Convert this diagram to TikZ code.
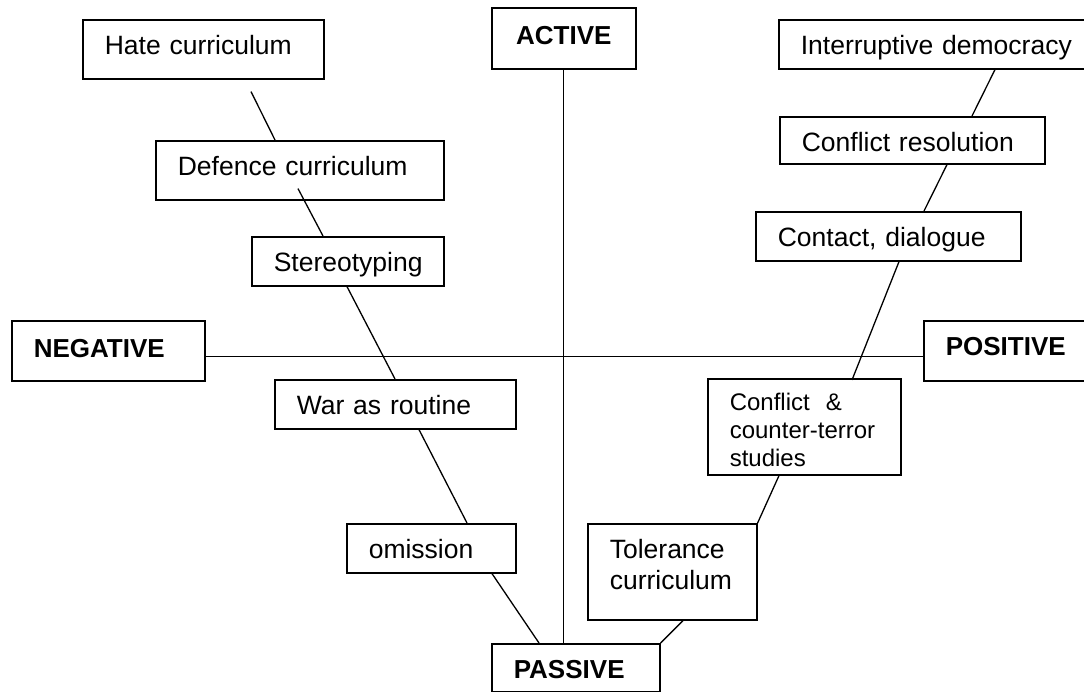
\documentclass[tikz,border=0pt]{standalone}
\usepackage{fontspec}
\setmainfont{Liberation Sans}
\usetikzlibrary{calc}
\newcommand\cfnorm{\fontsize{26.5pt}{31pt}\selectfont}
\newcommand\cfbold{\bfseries\fontsize{26pt}{31pt}\selectfont}
\newcommand\cfsmall{\fontsize{24pt}{28pt}\selectfont}
\tikzset{
  box/.style={draw, line width=1.6pt, rectangle, anchor=north west,
    inner xsep=22pt, inner ysep=0pt, align=left, font=\cfnorm,
    execute at begin node={\hyphenpenalty=10000\exhyphenpenalty=10000}},
  bbox/.style={box, font=\cfbold},
  conn/.style={line width=1.3pt},
}
\begin{document}
\begin{tikzpicture}[x=1pt, y=-1pt]
\fill[white] (0,0) rectangle (1084,692);
\useasboundingbox (0,0) rectangle (1084,692);

% left branch (negative)
\node[box, text width=197pt, text height=35pt, text depth=24pt] (hate) at (82,19) {Hate curriculum};
\node[box, text width=244pt, text height=35pt, text depth=24pt] (defence) at (155,140) {Defence curriculum};
\node[box, text width=148pt, text height=35pt, text depth=14pt] (stereo) at (251,236) {Stereotyping};
\node[box, text width=197pt, text height=35pt, text depth=14pt] (war) at (274,379) {War as routine};
\node[box, text width=125pt, text height=35pt, text depth=14pt] (omission) at (346,523) {omission};

% right branch (positive)
\node[box, text width=125pt, text height=35pt, text depth=61pt] (tolerance) at (587,523) {Tolerance\\curriculum};
\node[box, font=\cfsmall, text width=149pt, text height=32pt, text depth=64pt] (conflict) at (707,378) {Conflict\ \ \&\\counter-terror\\studies};
\node[box, text width=221pt, text height=35pt, text depth=14pt] (contact) at (755,211) {Contact, dialogue};
\node[box, text width=221pt, text height=35pt, text depth=12pt] (confres) at (779,116) {Conflict resolution};
\node[box, text width=276pt, text height=35pt, text depth=14pt] (interr) at (778,19) {Interruptive democracy};

% axis labels
\node[bbox, align=center, text width=100pt, text height=37pt, text depth=24pt] (active) at (491,7) {ACTIVE};
\node[bbox, text width=124pt, text height=35pt, text depth=13pt] (passive) at (491,643) {PASSIVE};
\node[bbox, text width=149pt, text height=37pt, text depth=23pt] (negative) at (11,320) {NEGATIVE};
\node[bbox, text width=131pt, text height=35pt, text depth=25pt] (positive) at (923,320) {POSITIVE};

% axes
\draw[conn] (active.south) -- (active.south |- passive.north);
\draw[conn] ($(negative.south east)+(0,-25)$) -- ($(positive.south west)+(0,-25)$);

% negative chain
\draw[conn] ($(hate.south west)+(169,12)$) -- ($(defence.north west)+(120,0)$);
\draw[conn] ($(defence.south west)+(143,-12)$) -- ($(stereo.north west)+(72,0)$);
\draw[conn] ($(stereo.south west)+(96,0)$) -- ($(war.north west)+(121,0)$);
\draw[conn] ($(war.south west)+(145,0)$) -- ($(omission.north west)+(121,0)$);
\draw[conn] ($(omission.south west)+(146,0)$) -- ($(passive.north west)+(48,0)$);

% positive chain
\draw[conn] (passive.north east) -- ($(tolerance.south west)+(96,0)$);
\draw[conn] (tolerance.north east) -- ($(conflict.south west)+(72,0)$);
\draw[conn] ($(conflict.north west)+(145,2)$) -- ($(contact.south west)+(144,0)$);
\draw[conn] ($(contact.north west)+(169,0)$) -- ($(confres.south west)+(168,0)$);
\draw[conn] ($(confres.north west)+(193,0)$) -- ($(interr.south west)+(217,0)$);
\end{tikzpicture}
\end{document}
